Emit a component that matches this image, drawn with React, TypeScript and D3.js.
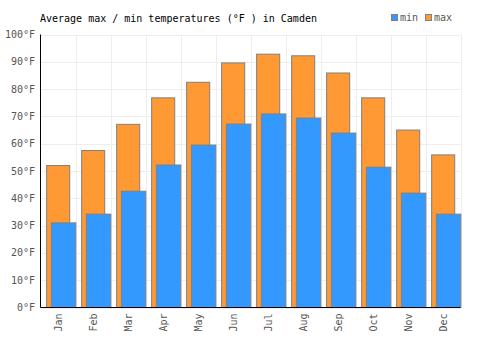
import React from "react";
import * as d3 from "d3";

const months = ["Jan", "Feb", "Mar", "Apr", "May", "Jun", "Jul", "Aug", "Sep", "Oct", "Nov", "Dec"];
const maxTemps = [52.0, 57.5, 67.1, 76.8, 82.5, 89.6, 92.8, 92.2, 85.9, 76.8, 65.0, 55.9];
const minTemps = [31.0, 34.2, 42.6, 52.2, 59.5, 67.2, 70.9, 69.4, 63.9, 51.4, 41.9, 34.2];
const yTicks = [0, 10, 20, 30, 40, 50, 60, 70, 80, 90, 100];

const W = 500, H = 350;
const M = { left: 40.5, right: 460.5, top: 34.5, bottom: 307.5 };
const FONT = "'DejaVu Sans Mono', monospace";

export default function App() {
  const x = d3.scaleBand<string>().domain(months).range([M.left, M.right]).padding(0);
  const y = d3.scaleLinear().domain([0, 100]).range([M.bottom, M.top]);
  const bw = x.bandwidth();
  return (
    <svg width={W} height={H} style={{ position: "absolute", left: 0, top: 0, background: "#fff" }}>
      {yTicks.map((t) => (
        <line key={"gy" + t} x1={M.left} x2={M.right} y1={Math.round(y(t)) + 0.5} y2={Math.round(y(t)) + 0.5} stroke="#eeeeee" strokeWidth={1} />
      ))}
      {months.map((m, i) => (
        <line key={"gx" + m} x1={Math.round(x(m)! + bw) + 0.5} x2={Math.round(x(m)! + bw) + 0.5} y1={M.top} y2={M.bottom} stroke="#eeeeee" strokeWidth={1} />
      ))}
      {months.map((m, i) => (
        <rect key={"mx" + m} x={x(m)! + bw * 0.175} y={y(maxTemps[i])} width={bw * 0.66} height={y(0) - y(maxTemps[i])}
          fill="#ff9933" stroke="#808080" strokeWidth={1} />
      ))}
      {months.map((m, i) => (
        <rect key={"mn" + m} x={x(m)! + bw * 0.31} y={y(minTemps[i])} width={bw * 0.7} height={y(0) - y(minTemps[i])}
          fill="#3399ff" stroke="#808080" strokeWidth={1} />
      ))}
      <line x1={M.left} x2={M.left} y1={M.top} y2={M.bottom} stroke="#000" strokeWidth={1} />
      <line x1={M.left} x2={M.right} y1={M.bottom} y2={M.bottom} stroke="#000" strokeWidth={1} />
      {yTicks.map((t) => (
        <text key={"ty" + t} x={35} y={y(t)} dy="0.35em" textAnchor="end" fontFamily={FONT} fontSize={10} fill="#555">
          {t}°F
        </text>
      ))}
      {months.map((m) => (
        <text key={"tx" + m} transform={`translate(${x(m)! + bw / 2 + 3.5},${M.bottom + 6}) rotate(-90)`} textAnchor="end"
          fontFamily={FONT} fontSize={10} fill="#555">
          {m}
        </text>
      ))}
      <text x={40} y={22} fontFamily={FONT} fontSize={10} fill="#000">
        Average max / min temperatures (°F ) in Camden
      </text>
      <rect x={391.5} y={14.5} width={6} height={6} fill="#3399ff" stroke="#808080" strokeWidth={1} />
      <text x={400} y={21} fontFamily={FONT} fontSize={10} fill="#555">min</text>
      <rect x={425.5} y={14.5} width={6} height={6} fill="#ff9933" stroke="#808080" strokeWidth={1} />
      <text x={434} y={21} fontFamily={FONT} fontSize={10} fill="#555">max</text>
    </svg>
  );
}
